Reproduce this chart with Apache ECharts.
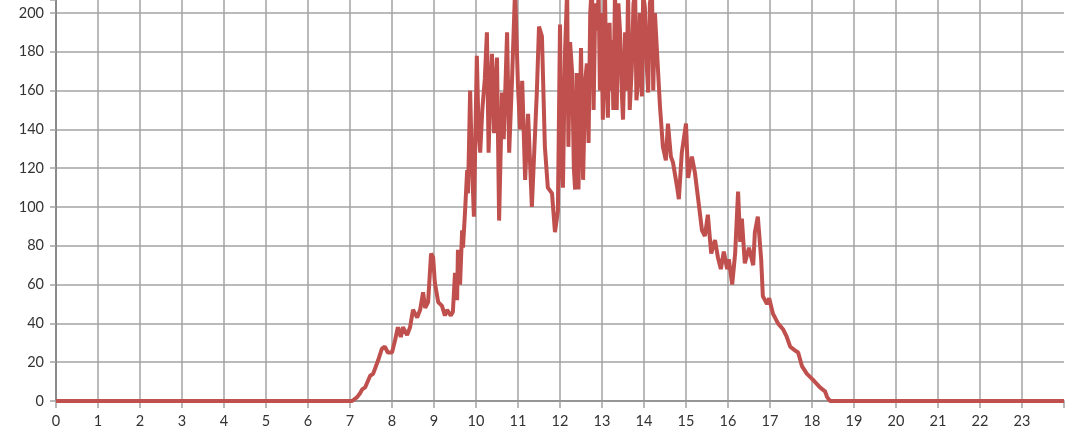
<!DOCTYPE html>
<html>
<head>
<meta charset="utf-8">
<script src="https://cdn.jsdelivr.net/npm/echarts@6/dist/echarts.min.js"></script>
<style>
  html, body { margin: 0; padding: 0; background: #fff; }
  #chart { width: 1072px; height: 432px; }
</style>
</head>
<body>
<div id="chart"></div>
<script>
// time of day (hours) and measured value
const hours = [
  0, 7.05, 7.17, 7.24, 7.29, 7.36, 7.48, 7.55, 7.67, 7.76, 7.83, 7.9,
  8.0, 8.07, 8.14, 8.21, 8.26, 8.36, 8.43, 8.5, 8.6, 8.67, 8.74, 8.79, 8.86, 8.93, 8.98,
  9.02, 9.1, 9.19, 9.26, 9.31, 9.4, 9.45, 9.5, 9.55, 9.57, 9.62, 9.67, 9.69, 9.74, 9.79, 9.81, 9.86, 9.9, 9.95,
  10.02, 10.06, 10.1, 10.15, 10.21, 10.26, 10.3, 10.34, 10.38, 10.43, 10.47, 10.5, 10.55, 10.62, 10.66, 10.69, 10.74, 10.79, 10.86, 10.93,
  11.0, 11.05, 11.1, 11.17, 11.24, 11.33, 11.45, 11.5, 11.57, 11.64, 11.71, 11.81, 11.88, 11.95,
  12.0, 12.04, 12.07, 12.12, 12.17, 12.2, 12.24, 12.29, 12.33, 12.36, 12.4, 12.44, 12.5, 12.55, 12.6, 12.64, 12.68, 12.72, 12.76, 12.8, 12.84, 12.88, 12.92, 12.95, 12.98,
  13.02, 13.07, 13.1, 13.14, 13.18, 13.21, 13.24, 13.27, 13.31, 13.35, 13.39, 13.43, 13.47, 13.5, 13.55, 13.59, 13.62, 13.66, 13.71, 13.75, 13.79, 13.82, 13.86, 13.9, 13.95, 13.98,
  14.02, 14.06, 14.1, 14.14, 14.19, 14.22, 14.26, 14.33, 14.38, 14.45, 14.52, 14.57, 14.64, 14.69, 14.79, 14.83, 14.9,
  15.0, 15.05, 15.14, 15.21, 15.29, 15.38, 15.45, 15.52, 15.6, 15.69, 15.76, 15.83, 15.9, 15.98,
  16.02, 16.1, 16.17, 16.24, 16.29, 16.33, 16.4, 16.5, 16.6, 16.64, 16.71, 16.79, 16.83, 16.93, 16.98,
  17.07, 17.19, 17.31, 17.4, 17.48, 17.6, 17.67, 17.76, 17.88,
  18.02, 18.19, 18.31, 18.36, 18.43, 24
]
const values = [
  0, 0, 2, 4, 6, 7, 13, 14, 21, 27, 28, 25,
  25, 31, 38, 33, 38, 34, 38, 47, 43, 47, 56, 48, 51, 76, 74,
  61, 51, 49, 44, 47, 44, 46, 66, 52, 78, 60, 88, 79, 98, 119, 107, 160, 125, 95,
  178, 140, 128, 150, 166, 190, 128, 160, 179, 138, 165, 177, 93, 159, 135, 155, 190, 128, 167, 212,
  162, 140, 165, 114, 148, 100, 160, 193, 188, 131, 110, 107, 87, 98,
  194, 120, 110, 180, 212, 131, 185, 169, 120, 109, 169, 109, 182, 114, 165, 174, 133, 200, 215, 150, 205, 191, 210, 160, 200,
  145, 212, 170, 146, 195, 160, 186, 150, 212, 150, 205, 190, 160, 145, 190, 160, 212, 150, 172, 205, 210, 155, 165, 200, 157, 210,
  203, 175, 159, 205, 212, 160, 200, 172, 152, 131, 124, 143, 126, 123, 110, 104, 128,
  143, 115, 126, 118, 104, 88, 85, 96, 76, 83, 74, 68, 77, 68,
  73, 60, 76, 108, 82, 94, 71, 79, 70, 87, 95, 73, 54, 50, 53,
  45, 40, 37, 33, 28, 26, 25, 18, 14,
  11, 7, 5, 2, 0, 0
]
const xTicks = [0, 24, 1]      // min, max, step
const yTicks = [0, 206.7, 20]  // top of the plot is cut just above 200

const labelColor = '#333'
const gridColor = '#a3a3a3'
const axisColor = '#8a8a8a'

const myChart = echarts.init(document.getElementById('chart'))
const option = {
  animation: false,
  grid: {
    left: 56,
    right: 8,
    top: 0,
    bottom: 31,
    containLabel: false
  },
  xAxis: {
    type: 'value',
    min: xTicks[0],
    max: xTicks[1],
    interval: xTicks[2],
    axisLine: { show: true, lineStyle: { color: axisColor, width: 1.5 } },
    axisTick: { show: true, length: 7, lineStyle: { color: gridColor, width: 1.5 } },
    axisLabel: {
      color: labelColor,
      fontFamily: 'Lato',
      fontSize: 14.5,
      margin: 13,
      formatter(val) {
        return val >= 24 ? '' : String(val)
      }
    },
    splitLine: { show: true, showMaxLine: false, lineStyle: { color: gridColor, width: 1.5 } }
  },
  yAxis: {
    type: 'value',
    min: yTicks[0],
    max: yTicks[1],
    interval: yTicks[2],
    axisLine: { show: true, lineStyle: { color: axisColor, width: 2 } },
    axisTick: { show: true, length: 6, lineStyle: { color: gridColor, width: 1.5 } },
    axisLabel: {
      color: labelColor,
      fontFamily: 'Lato',
      fontSize: 14.5,
      margin: 12,
      formatter(val) {
        return val > 200 ? '' : String(val)
      }
    },
    splitLine: { show: true, showMaxLine: false, lineStyle: { color: gridColor, width: 1.5 } }
  },
  series: [{
    type: 'line',
    data: hours.map((h, i) => [h, values[i]]),
    showSymbol: false,
    symbol: 'none',
    lineStyle: { color: '#C0504D', width: 4 },
    z: 5
  }]
}
myChart.setOption(option)
</script>
</body>
</html>
